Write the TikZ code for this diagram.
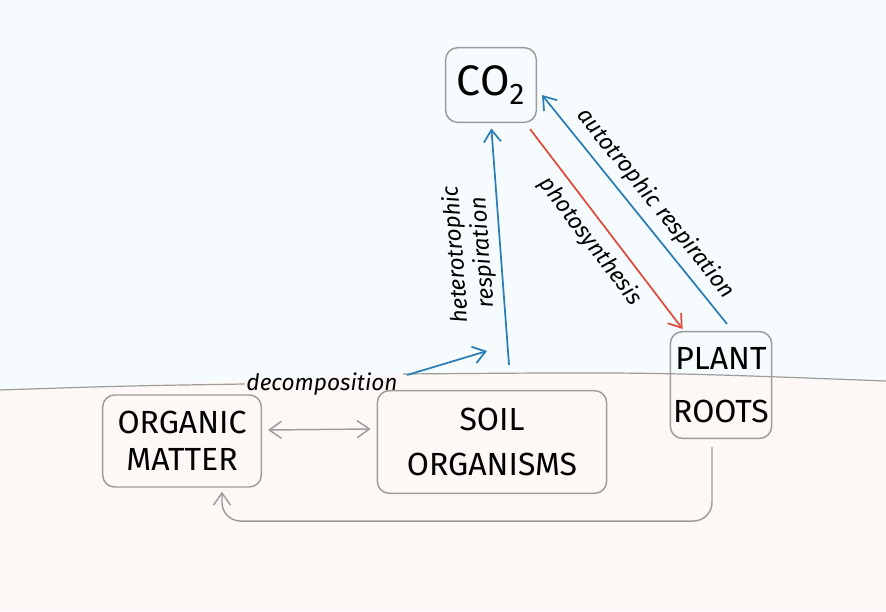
\documentclass[tikz,border=0pt]{standalone}
\usepackage{fontspec}
\setmainfont{Fira Sans}
\usetikzlibrary{arrows.meta,positioning,calc}
\definecolor{airblue}{HTML}{F6FBFD}
\definecolor{soilorange}{HTML}{FDF8F5}
\definecolor{resblue}{HTML}{2B7DB5}
\definecolor{photored}{HTML}{E04B3C}
\definecolor{pencil}{HTML}{9C9C9C}

\begin{document}
\begin{tikzpicture}[x=0.75pt, y=-0.75pt,
  box/.style={draw=pencil, line width=1.1pt, rounded corners=9pt, align=center,
    inner sep=0pt, font=\fontsize{24}{28}\selectfont},
  lbl/.style={font=\fontsize{17}{20}\selectfont\itshape, inner sep=1pt},
  barb/.tip={Straight Barb[length=3.2mm, width=4.5mm]},
  barr/.style={-barb, draw=resblue, line width=1.3pt},
  rarr/.style={-barb, draw=photored, line width=1.3pt},
  garr/.style={-barb, draw=pencil, line width=1.1pt},
  ground/.style={draw=pencil, line width=0.9pt}]
\useasboundingbox (0,0) rectangle (886,611);
% air and soil
\fill[airblue] (0,0) rectangle (886,611);
\fill[soilorange] (0,390) .. controls (120,386) .. (236,381) -- (404,374)
  .. controls (650,372) .. (886,381) -- (886,611) -- (0,611) -- cycle;
% pools
\node[box, minimum width=68pt, minimum height=56pt] (co2) at (491,85)
  {\fontsize{32}{34}\selectfont CO\textsubscript{2}};
\node[box, minimum width=119pt, minimum height=69pt] (om) at (182,441)
  {ORGANIC\\MATTER};
\node[box, minimum width=172pt, minimum height=77pt] (soil) at (492,442)
  {SOIL\\[6pt]ORGANISMS};
\node[box, minimum width=76pt, minimum height=80pt] (plant) at (721,385)
  {PLANT\\[12pt]ROOTS};
\node[lbl] (decomp) at (322,384) {decomposition};
% ground surface
\draw[ground] (0,390) .. controls (120,386) .. (decomp.west);
\draw[ground] ($(decomp.east)+(4,-10)$) .. controls (650,372) .. (886,381);
% fluxes
\draw[barr, shorten >=4pt] ($(soil.north)+(17,-25)$) -- node[lbl, sloped,
  allow upside down, above=3pt, pos=0.47, align=center]
  {heterotrophic\\respiration} (co2.south);
\coordinate (hrin) at (487,351);
\draw[barr] ($(decomp.east)+(8,-9)$) -- (hrin);
\draw[rarr] ($(co2.south east)+(-7,6)$) -- node[lbl, sloped, below=5pt, pos=0.5]
  {photosynthesis} ($(plant.north west)+(13,-2)$);
\draw[barr] ($(plant.north)+(6,-7)$) -- node[lbl, sloped, above=5pt, pos=0.47]
  {autotrophic respiration} ($(co2.east)+(5,10)$);
\draw[garr, barb-barb] ($(om.east)+(6,-11)$) -- ($(soil.west)+(-6,-13)$);
\draw[garr, rounded corners=14pt] ($(plant.south)+(-9,8)$) -- ++(0,74)
  -| ($(om.south)+(40,4)$);
\end{tikzpicture}
\end{document}
